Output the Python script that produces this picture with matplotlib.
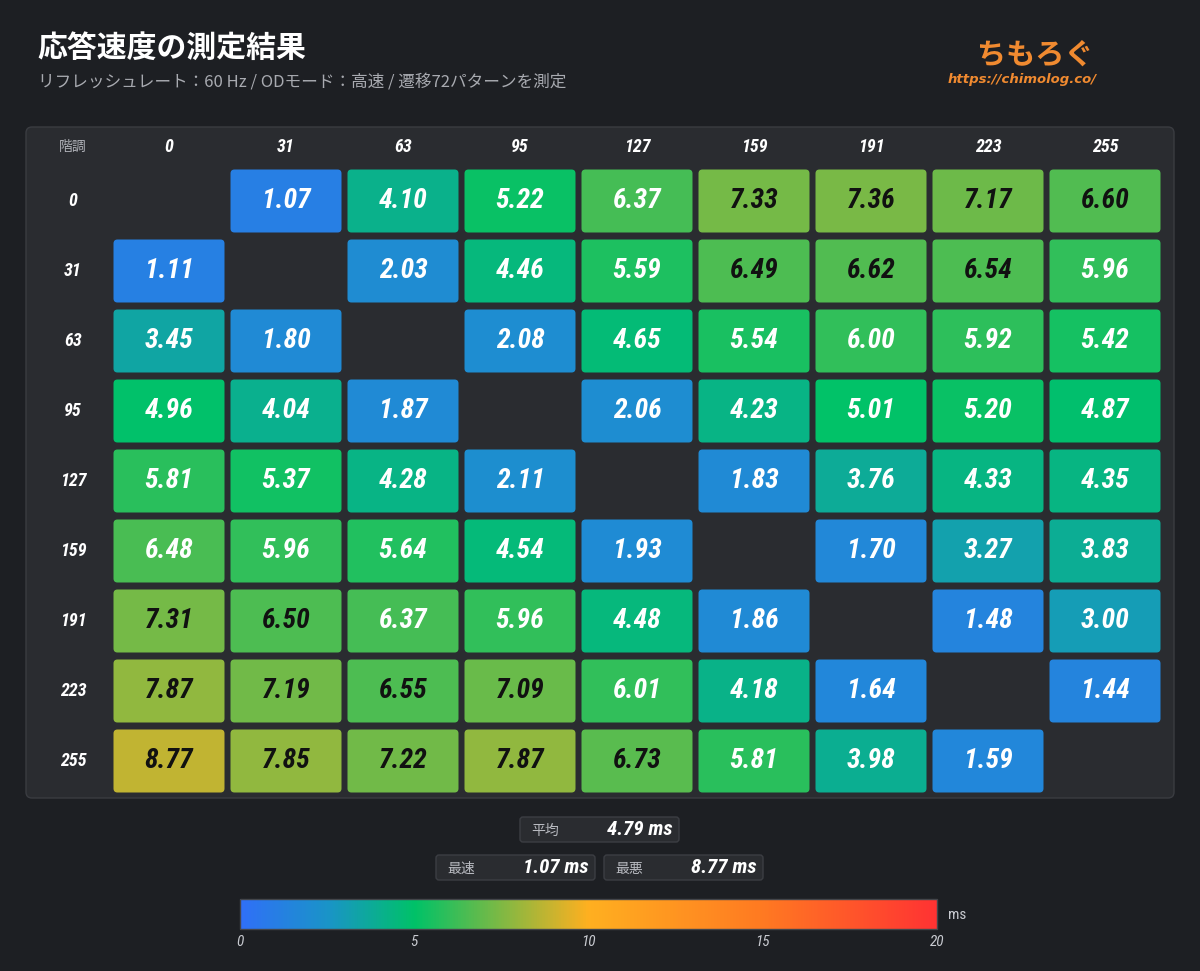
import matplotlib
matplotlib.use("Agg")
import matplotlib.pyplot as plt
import numpy as np
from matplotlib.patches import FancyBboxPatch, Rectangle
from matplotlib.colors import LinearSegmentedColormap
from matplotlib import font_manager as fm

# ---------------- data ----------------
levels = [0, 31, 63, 95, 127, 159, 191, 223, 255]
values = [
    [None, 1.07, 4.10, 5.22, 6.37, 7.33, 7.36, 7.17, 6.60],
    [1.11, None, 2.03, 4.46, 5.59, 6.49, 6.62, 6.54, 5.96],
    [3.45, 1.80, None, 2.08, 4.65, 5.54, 6.00, 5.92, 5.42],
    [4.96, 4.04, 1.87, None, 2.06, 4.23, 5.01, 5.20, 4.87],
    [5.81, 5.37, 4.28, 2.11, None, 1.83, 3.76, 4.33, 4.35],
    [6.48, 5.96, 5.64, 4.54, 1.93, None, 1.70, 3.27, 3.83],
    [7.31, 6.50, 6.37, 5.96, 4.48, 1.86, None, 1.48, 3.00],
    [7.87, 7.19, 6.55, 7.09, 6.01, 4.18, 1.64, None, 1.44],
    [8.77, 7.85, 7.22, 7.87, 6.73, 5.81, 3.98, 1.59, None],
]
stat_avg = 4.79
stat_best = 1.07
stat_worst = 8.77
cbar_ticks = [0, 5, 10, 15, 20]
title = "応答速度の測定結果"
subtitle = "リフレッシュレート：60 Hz / ODモード：高速 / 遷移72パターンを測定"

# ---------------- fonts ----------------
avail = {f.name for f in fm.fontManager.ttflist}
num_family = None
for cand in ["Liberation Sans Narrow", "DejaVu Sans Condensed", "Roboto Condensed"]:
    if cand in avail:
        num_family = cand
        break
if num_family is None:
    num_family = "DejaVu Sans"
JP = ["Noto Sans CJK JP", "DejaVu Sans"]

BG = "#1d1f23"
PANEL = "#2a2c30"

cmap = LinearSegmentedColormap.from_list(
    "rt", [(0.0, "#3070f8"), (0.125, "#1a94c8"), (0.25, "#00c268"), (0.5, "#ffb020"),
           (0.75, "#ff7a22"), (1.0, "#ff3333")])
vmin, vmax = 0, 20

W, H = 1200, 971
fig = plt.figure(figsize=(W / 100, H / 100), dpi=100, facecolor=BG)
ax = fig.add_axes([0, 0, 1, 1])
ax.set_xlim(0, W)
ax.set_ylim(H, 0)
ax.axis("off")
ax.set_facecolor(BG)

# title
ax.text(37, 48, title, fontsize=21.5, fontweight="bold", color="white",
        family=JP, va="center", ha="left")
ax.text(38, 82, subtitle, fontsize=12, color="#a8aab0", family=JP,
        va="center", ha="left")

# logo text
ax.text(1035, 55, "ちもろぐ", fontsize=21, fontweight="bold", color="#f08a30",
        family=JP, va="center", ha="center")
ax.text(1022, 80, "https://chimolog.co/", fontsize=9.5, fontweight="bold",
        style="italic", color="#f08a30", family="DejaVu Sans", va="center", ha="center")

# panel
ax.add_patch(FancyBboxPatch((26, 127), 1148, 671,
                            boxstyle="round,pad=0,rounding_size=6",
                            facecolor=PANEL, edgecolor="#3a3c41", linewidth=1))

x0, pitch_x, cw = 169, 117, 111
y0, pitch_y, ch = 201, 70, 63
label_x = 73
header_y = 147

ax.text(label_x, header_y, "階調", fontsize=10, color="#b0b2b8", family=JP,
        ha="center", va="center")
for j, lv in enumerate(levels):
    ax.text(x0 + j * pitch_x, header_y, str(lv), fontsize=13, fontweight="bold",
            style="italic", color="white", family=num_family, ha="center", va="center")
for i, lv in enumerate(levels):
    ax.text(label_x, y0 + i * pitch_y, str(lv), fontsize=13, fontweight="bold",
            style="italic", color="white", family=num_family, ha="center", va="center")

for i, row in enumerate(values):
    for j, v in enumerate(row):
        if v is None:
            continue
        cx = x0 + j * pitch_x
        cy = y0 + i * pitch_y
        col = cmap((v - vmin) / (vmax - vmin))
        ax.add_patch(FancyBboxPatch((cx - cw / 2, cy - ch / 2), cw, ch,
                                    boxstyle="round,pad=0,rounding_size=4",
                                    facecolor=col, edgecolor="none"))
        tc = "#111111" if v >= 6.485 else "white"
        ax.text(cx, cy, f"{v:.2f}", fontsize=20, fontweight="bold", style="italic",
                color=tc, family=num_family, ha="center", va="center")

# stats boxes
def stat_box(x, y, w, h, label, val):
    ax.add_patch(FancyBboxPatch((x, y), w, h, boxstyle="round,pad=0,rounding_size=3",
                                facecolor="#2a2c30", edgecolor="#3c3e43", linewidth=1))
    ax.text(x + 11, y + h / 2 + 1, label, fontsize=10, color="#b8bac0", family=JP,
            ha="left", va="center")
    ax.text(x + w - 6, y + h / 2, f"{val:.2f} ms", fontsize=15, fontweight="bold",
            style="italic", color="white", family=num_family, ha="right", va="center")

stat_box(520, 817, 159, 25, "平均", stat_avg)
stat_box(436, 855, 159, 25, "最速", stat_best)
stat_box(604, 855, 159, 25, "最悪", stat_worst)

# colorbar
cb_x0, cb_x1, cb_y0, cb_y1 = 240, 937, 899, 929
grad = np.linspace(vmin, vmax, 512).reshape(1, -1)
ax.imshow(grad, cmap=cmap, vmin=vmin, vmax=vmax, aspect="auto",
          extent=(cb_x0, cb_x1, cb_y1, cb_y0), zorder=2)
ax.add_patch(Rectangle((cb_x0, cb_y0), cb_x1 - cb_x0, cb_y1 - cb_y0, fill=False,
                       edgecolor="#44464b", linewidth=1, zorder=3))
for t in cbar_ticks:
    tx = cb_x0 + (t - vmin) / (vmax - vmin) * (cb_x1 - cb_x0)
    ax.text(tx, 942, str(t), fontsize=11, style="italic", color="#c8cad0",
            family=num_family, ha="center", va="center")
ax.text(948, 915, "ms", fontsize=11, color="#c8cad0", family=num_family,
        ha="left", va="center")

ax.set_xlim(0, W)
ax.set_ylim(H, 0)
fig.savefig("out.png", dpi=100, facecolor=BG)
